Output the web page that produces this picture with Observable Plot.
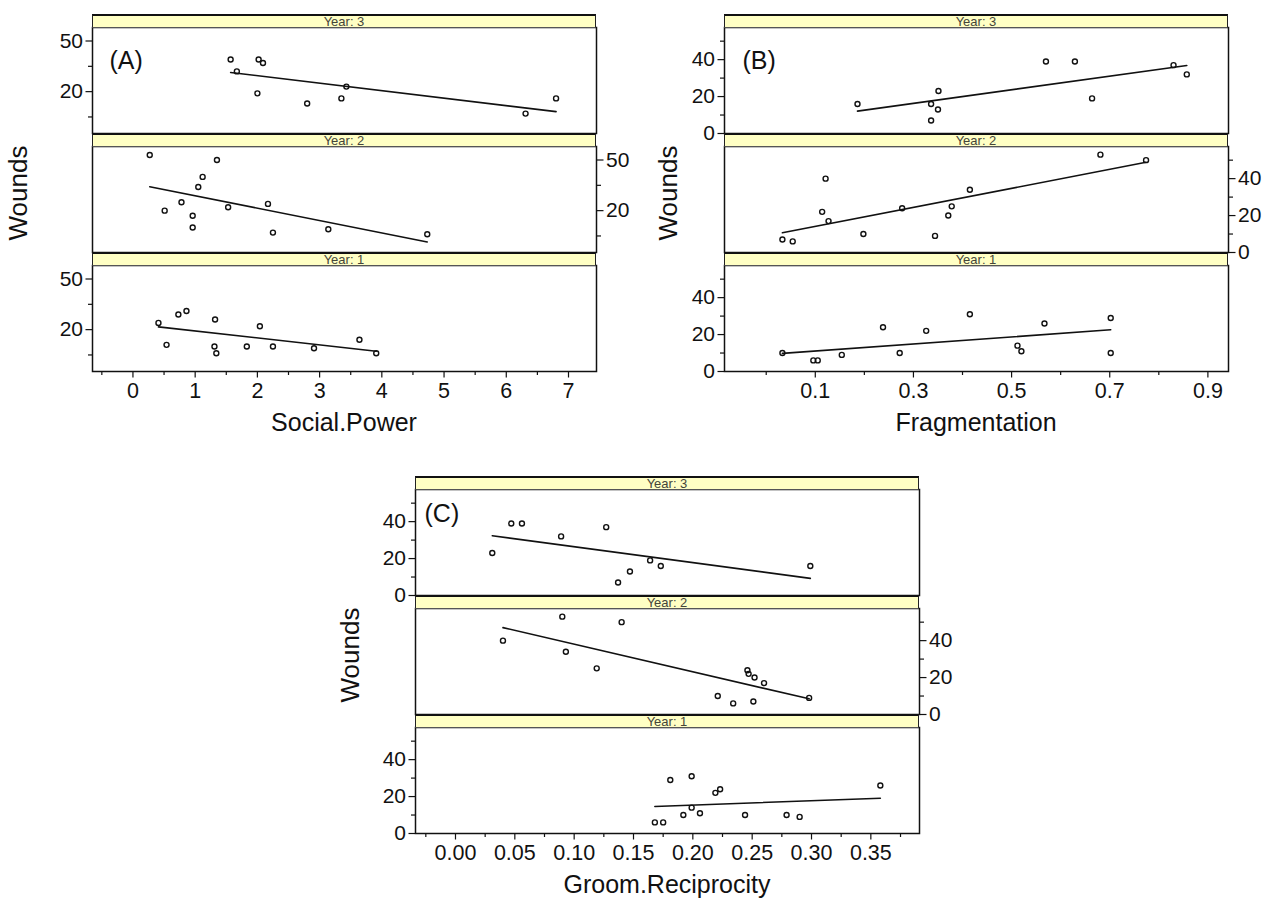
<!DOCTYPE html>
<html><head><meta charset="utf-8">
<script src="https://cdn.jsdelivr.net/npm/d3@7"></script>
<script src="https://cdn.jsdelivr.net/npm/@observablehq/plot@0.6"></script>
<style>
body{margin:0;background:#fff;font-family:"Liberation Sans",Arial,sans-serif;}
#root{position:relative;width:1274px;height:900px;overflow:hidden;background:#fff;}
.sub{position:absolute;}
.sub svg{max-width:none !important;}
.strip{position:absolute;box-sizing:border-box;background:#ffffc4;border-top:2px solid #111;border-left:1px solid #222;border-right:1px solid #222;border-bottom:1.5px solid #555;font-size:13px;color:#45453a;display:flex;align-items:center;justify-content:center;line-height:1;}
.title{position:absolute;font-size:25px;white-space:nowrap;transform:translate(-50%,-50%);color:#111;}
.ylab{position:absolute;font-size:26px;white-space:nowrap;transform:translate(-50%,-50%) rotate(-90deg);color:#111;}
</style></head><body><div id="root"></div><script>
// ---------- data ----------
const panelLabels = ["(A)", "(B)", "(C)"];
const xTitles = ["Social.Power", "Fragmentation", "Groom.Reciprocity"];
const yTitle = "Wounds";
const stripLabels = ["Year: 3", "Year: 2", "Year: 1"];

// Panel A : Social.Power
const spYear3 = [1.57, 1.67, 2.02, 2.09, 2.00, 2.80, 3.35, 3.43, 6.31, 6.80];
const spWoundsYear3 = [39, 32, 39, 37, 19, 13, 16, 23, 7, 16];
const spYear2 = [0.27, 0.51, 0.78, 0.96, 0.96, 1.05, 1.12, 1.35, 1.53, 2.17, 2.25, 3.14, 4.73];
const spWoundsYear2 = [53, 20, 25, 17, 10, 34, 40, 50, 22, 24, 7, 9, 6];
const spYear1 = [0.41, 0.54, 0.73, 0.86, 1.32, 1.31, 1.34, 1.83, 2.04, 2.25, 2.91, 3.64, 3.91];
const spWoundsYear1 = [24, 11, 29, 31, 26, 10, 6, 10, 22, 10, 9, 14, 6];

// Panel B : Fragmentation
const fragYear3 = [0.186, 0.336, 0.336, 0.351, 0.350, 0.570, 0.629, 0.664, 0.830, 0.857];
const fragWoundsYear3 = [16, 16, 7, 23, 13, 39, 39, 19, 37, 32];
const fragYear2 = [0.033, 0.054, 0.114, 0.121, 0.127, 0.198, 0.277, 0.344, 0.371, 0.378, 0.415, 0.681, 0.774];
const fragWoundsYear2 = [7, 6, 22, 40, 17, 10, 24, 9, 20, 25, 34, 53, 50];
const fragYear1 = [0.033, 0.096, 0.105, 0.154, 0.238, 0.272, 0.326, 0.415, 0.512, 0.520, 0.567, 0.702, 0.702];
const fragWoundsYear1 = [10, 6, 6, 9, 24, 10, 22, 31, 14, 11, 26, 29, 10];

// Panel C : Groom.Reciprocity
const grYear3 = [0.031, 0.047, 0.056, 0.089, 0.127, 0.137, 0.147, 0.164, 0.173, 0.299];
const grWoundsYear3 = [23, 39, 39, 32, 37, 7, 13, 19, 16, 16];
const grYear2 = [0.040, 0.090, 0.093, 0.119, 0.140, 0.221, 0.234, 0.246, 0.247, 0.252, 0.251, 0.260, 0.298];
const grWoundsYear2 = [40, 53, 34, 25, 50, 10, 6, 24, 22, 20, 7, 17, 9];
const grYear1 = [0.168, 0.175, 0.181, 0.192, 0.199, 0.199, 0.206, 0.219, 0.223, 0.244, 0.279, 0.290, 0.358];
const grWoundsYear1 = [6, 6, 29, 10, 31, 14, 11, 22, 24, 10, 10, 9, 26];

// tick values
const spTicks = [0, 1, 2, 3, 4, 5, 6, 7];
const spMinorTicks = [-0.5, 0.5, 1.5, 2.5, 3.5, 4.5, 5.5, 6.5];
const fragTicks = [0.1, 0.3, 0.5, 0.7, 0.9];
const fragMinorTicks = [0, 0.2, 0.4, 0.6, 0.8];
const grTicks = [0, 0.05, 0.10, 0.15, 0.20, 0.25, 0.30, 0.35];
const grMinorTicks = [-0.025, 0.025, 0.075, 0.125, 0.175, 0.225, 0.275, 0.325, 0.375];
const woundsTicksA = [20, 50];
const woundsMinorTicksA = [5, 35];
const woundsTicks = [0, 20, 40];
const woundsMinorTicks = [10, 30, 50];

// ---------- layout ----------
const rows = (xs, ys) => d3.zip(xs, ys).map(([x, y]) => ({x, y}));
const panels = [
  {left: 92, top: 14, ylabX: 18, xDomain: [-0.65, 7.45], yDomain: [-4.8, 58],
   xMajor: spTicks, xMinor: spMinorTicks, xFormat: d3.format("d"),
   yMajor: woundsTicksA, yMinor: woundsMinorTicksA, lab: [17, 24],
   sets: [rows(spYear3, spWoundsYear3), rows(spYear2, spWoundsYear2), rows(spYear1, spWoundsYear1)]},
  {left: 724, top: 14, ylabX: 668, xDomain: [-0.085, 0.942], yDomain: [0, 57.4],
   xMajor: fragTicks, xMinor: fragMinorTicks, xFormat: d3.format(".1f"),
   yMajor: woundsTicks, yMinor: woundsMinorTicks, lab: [18, 24],
   sets: [rows(fragYear3, fragWoundsYear3), rows(fragYear2, fragWoundsYear2), rows(fragYear1, fragWoundsYear1)]},
  {left: 415, top: 476, ylabX: 350, xDomain: [-0.0337, 0.391], yDomain: [0, 57.4],
   xMajor: grTicks, xMinor: grMinorTicks, xFormat: d3.format(".2f"),
   yMajor: woundsTicks, yMinor: woundsMinorTicks, lab: [9, 15],
   sets: [rows(grYear3, grWoundsYear3), rows(grYear2, grWoundsYear2), rows(grYear1, grWoundsYear1)]}
];
const FW = 504, PH = 106, SH = 13, SUB = 119, ML = 60, MR = 60, MT = 1;
const root = document.getElementById("root");

panels.forEach((p, k) => {
  p.sets.forEach((data, i) => {
    const stripTop = p.top + i * SUB;
    const plotTop = stripTop + SH;
    const bottom = i === 2;
    const MB = bottom ? 40 : 1;
    const anchor = i === 1 ? "right" : "left";
    const marks = [
      Plot.axisY(p.yMinor, {anchor, tickSize: 4, tickFormat: () => "", label: null, strokeWidth: 1.2}),
      Plot.axisY(p.yMajor, {anchor, tickSize: 6.5, tickPadding: 3, fontSize: 21, label: null, tickFormat: d => String(d), strokeWidth: 1.2})
    ];
    if (bottom) {
      marks.push(Plot.axisX(p.xMinor, {anchor: "bottom", tickSize: 4, tickFormat: () => "", label: null, strokeWidth: 1.2}));
      marks.push(Plot.axisX(p.xMajor, {anchor: "bottom", tickSize: 6.5, tickPadding: 5, fontSize: 21.5, label: null, tickFormat: p.xFormat, strokeWidth: 1.2}));
    }
    marks.push(Plot.frame({stroke: "#111", strokeWidth: 1.5}));
    marks.push(Plot.linearRegressionY(data, {x: "x", y: "y", stroke: "#111", strokeWidth: 1.6, ci: 0}));
    marks.push(Plot.dot(data, {x: "x", y: "y", r: 2.5, stroke: "#111", strokeWidth: 1.4, fill: "none"}));
    if (i === 0) {
      marks.push(Plot.text([panelLabels[k]], {text: d => d, frameAnchor: "top-left", dx: p.lab[0], dy: p.lab[1], fontSize: 25, fill: "#111"}));
    }
    const W = FW + ML + MR, H = PH + MT + MB;
    const svg = Plot.plot({
      width: W, height: H,
      marginLeft: ML, marginRight: MR, marginTop: MT, marginBottom: MB,
      x: {domain: p.xDomain, axis: null},
      y: {domain: p.yDomain, axis: null},
      style: {background: "transparent", overflow: "visible", maxWidth: "none", fontFamily: "'Liberation Sans', Arial, sans-serif", color: "#111"},
      marks
    });
    const wrap = document.createElement("div");
    wrap.className = "sub";
    wrap.style.left = (p.left - ML) + "px";
    wrap.style.top = (plotTop - MT) + "px";
    wrap.style.width = W + "px";
    wrap.style.height = H + "px";
    wrap.appendChild(svg);
    root.appendChild(wrap);
  });
  // strips on top
  stripLabels.forEach((s, i) => {
    const d = document.createElement("div");
    d.className = "strip";
    d.style.left = p.left + "px";
    d.style.width = FW + "px";
    d.style.top = (p.top + i * SUB) + "px";
    d.style.height = (SH + 1) + "px";
    d.textContent = s;
    root.appendChild(d);
  });
  const t = document.createElement("div");
  t.className = "title";
  t.textContent = xTitles[k];
  t.style.left = (p.left + FW / 2) + "px";
  t.style.top = (p.top + 3 * SUB + 51) + "px";
  root.appendChild(t);
  const y = document.createElement("div");
  y.className = "ylab";
  y.textContent = yTitle;
  y.style.left = p.ylabX + "px";
  y.style.top = (p.top + 3 * SUB / 2) + "px";
  root.appendChild(y);
});
</script></body></html>
